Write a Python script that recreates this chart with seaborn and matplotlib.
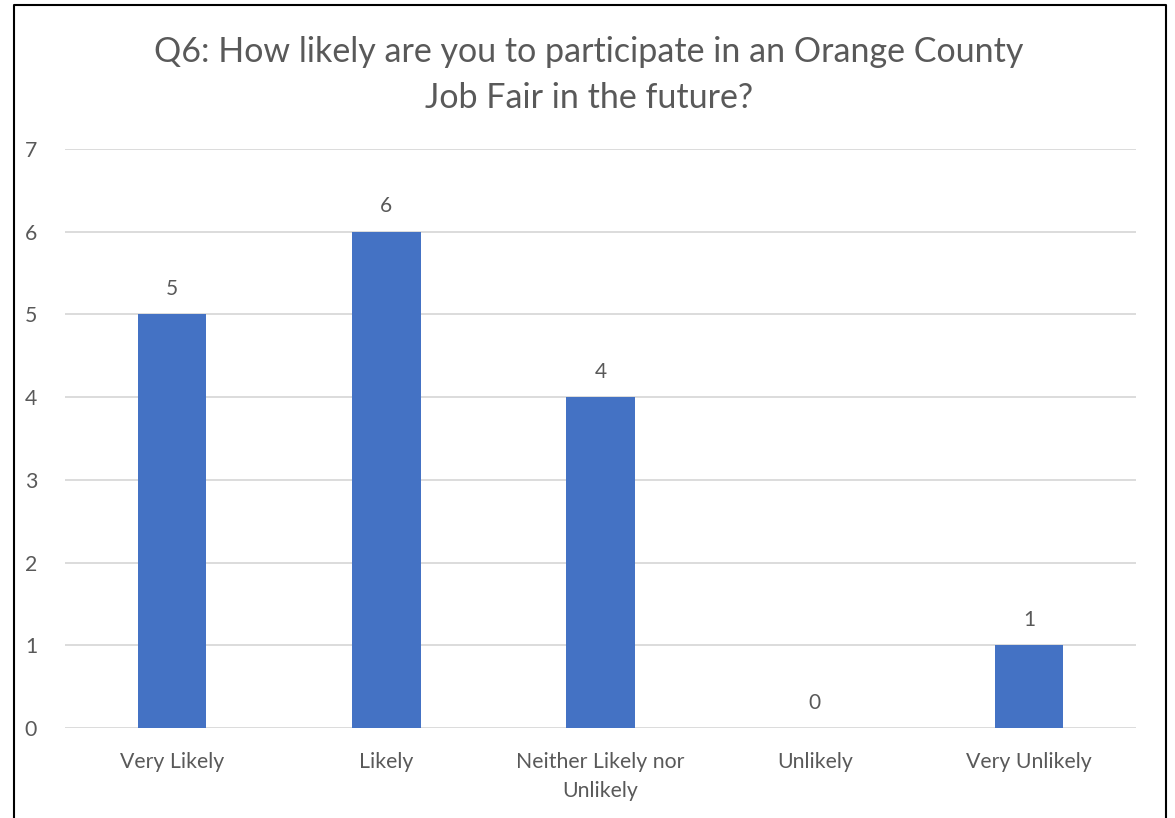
import matplotlib.pyplot as plt
import seaborn as sns
import pandas as pd

categorias = ['Very Likely', 'Likely', 'Neither Likely nor\nUnlikely', 'Unlikely', 'Very Unlikely']
respostas = [5, 6, 4, 0, 1]
titulo = 'Q6: How likely are you to participate in an Orange County\nJob Fair in the future?'

df = pd.DataFrame({'categoria': categorias, 'respostas': respostas})

sns.set_theme(style="white")
plt.rcParams['font.family'] = ['Lato', 'DejaVu Sans']
cinza = '#595959'

fig = plt.figure(figsize=(11.75, 8.18), dpi=100)
ax = fig.add_axes([65 / 1175, 1 - 728 / 818, (1136 - 65) / 1175, (728 - 149) / 818])

sns.barplot(data=df, x='categoria', y='respostas', color='#4472C4', width=0.32,
            saturation=1, linewidth=0, ax=ax)

for i, v in enumerate(respostas):
    ax.annotate(str(v), (i, v), xytext=(0, 11), textcoords='offset points',
                ha='center', va='bottom', fontsize=15, color=cinza)

ax.set_ylim(0, 7)
ax.set_xlim(-0.5, len(categorias) - 0.5)
ax.set_yticks(range(0, 8))
ax.yaxis.grid(True, color='#D9D9D9', linewidth=1.3)
ax.set_axisbelow(True)
for s in ax.spines.values():
    s.set_visible(False)
ax.tick_params(axis='both', length=0, labelsize=15.3, labelcolor=cinza)
ax.tick_params(axis='x', pad=17)
ax.tick_params(axis='y', pad=20)
for lbl in ax.get_xticklabels():
    lbl.set_linespacing(1.6)
ax.set_xlabel('')
ax.set_ylabel('')

fig.text(589 / 1175, 1 - 75 / 818, titulo, ha='center', va='center', fontsize=24.5,
         color=cinza, linespacing=1.5)

# borda do gráfico (esquerda, topo, direita)
x0, x1, y1 = 14 / 1175, 1166 / 1175, 1 - 5 / 818
fig.add_artist(plt.Line2D([x0, x0, x1, x1], [0, y1, y1, 0], color='black',
                          linewidth=1.5, transform=fig.transFigure))

plt.savefig('out.png', dpi=100)
